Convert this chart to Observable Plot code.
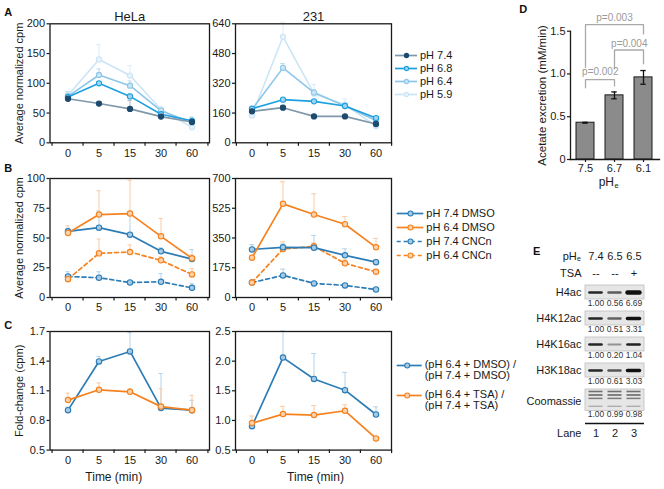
<!DOCTYPE html>
<html><head><meta charset="utf-8">
<script src="https://cdn.jsdelivr.net/npm/d3@7"></script>
<script src="https://cdn.jsdelivr.net/npm/@observablehq/plot@0.6"></script>
<style>
html,body{margin:0;padding:0;background:#fff;}
#fig{position:relative;width:664px;height:489px;overflow:hidden;background:#fff;font-family:"Liberation Sans",Arial,Helvetica,sans-serif;}
#fig svg{position:absolute;overflow:visible;}
.letter{position:absolute;font-weight:bold;font-size:11px;color:#111;line-height:1;transform:translate(-50%,-50%);}
</style></head><body><div id="fig"></div>
<script>
// ---------- data ----------
const times = ["0","5","15","30","60"];

const aSeries = ["pH 7.4","pH 6.8","pH 6.4","pH 5.9"];
const aHelaMean = [[74,66,57,44,35],[77,100,78,48,37],[78,114,96,54,34],[80,140,113,56,26]];
const aHelaErr  = [[2,2,14,2,2],[3,3,4,2,6],[8,10,8,3,4],[6,25,17,4,3]];
const a231Mean  = [[169,189,142,142,101],[183,232,223,198,133],[180,403,270,198,120],[147,570,264,205,90]];
const a231Err   = [[8,12,8,6,6],[8,6,8,8,8],[8,23,15,12,8],[10,75,50,30,10]];
const aHelaTicks = [0,50,100,150,200];
const a231Ticks  = [0,160,320,480,640];

const bSeries = ["pH 7.4 DMSO","pH 6.4 DMSO","pH 7.4 CNCn","pH 6.4 CNCn"];
const bHelaMean = [[55.6,58.7,52.8,38.8,32.3],[54.2,69.7,70.5,51.4,32.9],[17.7,16.6,12.6,13.2,8.1],[15.4,37.1,38.2,31.2,19.4]];
const bHelaErr  = [[2.5,14,16,3,8],[6,20,28,15,3],[4,5,1,7,3.5],[2,12,6,3,5]];
const b231Mean  = [[283,295,293,248,208],[234,551,488,431,295],[88,130,83,71,47],[88,285,301,201,151]];
const b231Err   = [[28,20,72,38,15],[15,130,122,45,53],[10,37,5,5,5],[8,43,20,20,15]];
const bHelaTicks = [0,25,50,75,100];
const b231Ticks  = [0,175,350,525,700];

const cSeries = ["(pH 6.4 + DMSO) /\n(pH 7.4 + DMSO)","(pH 6.4 + TSA) /\n(pH 7.4 + TSA)"];
const cHelaMean = [[0.904,1.397,1.498,0.925,0.904],[1.006,1.11,1.09,0.94,0.904]];
const cHelaErr  = [[0.03,0.05,0.19,0.35,0.1],[0.07,0.07,0.03,0.18,0.15]];
const c231Mean  = [[0.904,2.06,1.70,1.51,1.10],[0.955,1.107,1.09,1.163,0.697]];
const c231Err   = [[0.03,0.45,0.43,0.30,0.13],[0.12,0.13,0.16,0.10,0]];
const cHelaTicks = [0.5,0.8,1.1,1.4,1.7];
const c231Ticks  = [0.5,1.0,1.5,2.0,2.5];

const dCats = ["7.5","6.7","6.1"];
const dMean = [0.43,0.75,0.96];
const dErr  = [0.005,0.04,0.08];
const dTicks = [0,0.5,1.0,1.5];
const dPairs = [["7.5","6.7"],["6.7","6.1"],["7.5","6.1"]];
const dPLabels = ["p=0.002","p=0.004","p=0.003"];
const dPTop = [0.935,1.28,1.577];
const dPLegs = [[0.838,0.86],[1.06,1.118],[1.078,1.468]];
const dPText = [1.024,1.35,1.66];

const eRows = ["H4ac","H4K12ac","H4K16ac","H3K18ac","Coomassie"];
const eLanes = ["1","2","3"];
const ePHe = ["7.4","6.5","6.5"];
const eTSA = ["--","--","+"];
const eQuant = [[1.00,0.56,6.69],[1.00,0.51,3.31],[1.00,0.20,1.04],[1.00,0.61,3.03],[1.00,0.99,0.98]];

// ---------- helpers ----------
const fig = document.getElementById("fig");
const FONT = '"Liberation Sans", Arial, Helvetica, sans-serif';
const baseStyle = {fontFamily: FONT, fontSize: "11px", color: "#1a1a1a", background: "transparent", overflow: "visible"};
function place(node, x, y) { node.style.left = x + "px"; node.style.top = y + "px"; fig.appendChild(node); }
function letter(t, x, y) { const d = document.createElement("div"); d.className = "letter"; d.textContent = t; d.style.left = x + "px"; d.style.top = y + "px"; fig.appendChild(d); }

const aStyles = [
  {line: "#7f97ab", fill: "#1d4b6e", dot: "#1d4b6e", err: "#a9b9c7", dash: null},
  {line: "#1e9fe0", fill: "#a3d5f1", dot: "#1e9fe0", err: "#8fcdee", dash: null},
  {line: "#8cc6e9", fill: "#cde6f6", dot: "#8cc6e9", err: "#bcdcf0", dash: null},
  {line: "#cbe5f6", fill: "#e8f3fb", dot: "#cbe5f6", err: "#dbecf8", dash: null}
];
const BLUE = "#2c7cb6", ORANGE = "#f5821f";
const bStyles = [
  {line: BLUE, fill: "#a6cbe6", dot: BLUE, err: "#b3d3ea", dash: null},
  {line: ORANGE, fill: "#fcd2ab", dot: ORANGE, err: "#fbcba4", dash: null},
  {line: BLUE, fill: "#a6cbe6", dot: BLUE, err: "#b3d3ea", dash: "4,3"},
  {line: ORANGE, fill: "#fcd2ab", dot: ORANGE, err: "#fbcba4", dash: "4,3"}
];
const cStyles = [bStyles[0], bStyles[1]];

function lineChart(o) {
  const {means, errs, styles, order, yDomain, yTicks, yFmt, fx, fy, fw, fh, ml, mt, mb, title, ylabel, xlabel, xlabelDx = 0, r = 2.7, sw = 1.7} = o;
  const mr = 6;
  const bw = fw / times.length;
  const marks = [];
  order.forEach(si => {
    const rows = times.map((t, i) => ({t, m: means[si][i], e: errs[si][i]}));
    const s = styles[si];
    marks.push(Plot.ruleX(rows.filter(d => d.e > 0), {x: "t", y1: "m", y2: d => d.m + d.e, stroke: s.err, strokeWidth: 1}));
    marks.push(Plot.tickY(rows.filter(d => d.e > 0), {x: "t", y: d => d.m + d.e, stroke: s.err, strokeWidth: 1, inset: (bw - 5) / 2}));
  });
  order.forEach(si => {
    const rows = times.map((t, i) => ({t, m: means[si][i]}));
    const s = styles[si];
    marks.push(Plot.line(rows, {x: "t", y: "m", stroke: s.line, strokeWidth: sw, strokeDasharray: s.dash}));
    marks.push(Plot.dot(rows, {x: "t", y: "m", r, fill: s.fill, stroke: s.dot, strokeWidth: 1.1}));
  });
  marks.push(
    Plot.axisY({ticks: yTicks, tickFormat: yFmt, tickSize: 3, tickPadding: 2, label: null, strokeWidth: 1.2}),
    Plot.axisX({tickSize: 0, tickPadding: 6, label: null}),
    Plot.axisX({tickSize: 3.5, tickFormat: () => "", dx: -bw / 2, label: null, strokeWidth: 1.2}),
    Plot.axisX([times[times.length - 1]], {tickSize: 3.5, tickFormat: () => "", dx: bw / 2, label: null, strokeWidth: 1.2}),
    Plot.frame({stroke: "#1a1a1a", strokeWidth: 1.3})
  );
  if (title) marks.push(Plot.text([title], {text: d => d, frameAnchor: "top", dy: -7.3, lineAnchor: "middle", fontSize: 13}));
  if (ylabel) marks.push(Plot.text([ylabel], {text: d => d, frameAnchor: "left", dx: -30.5, rotate: -90, textAnchor: "middle", lineAnchor: "middle", fontSize: 11}));
  if (xlabel) marks.push(Plot.text([xlabel], {text: d => d, frameAnchor: "bottom", dy: 27.4, dx: xlabelDx, lineAnchor: "middle", fontSize: 12}));
  const p = Plot.plot({
    width: ml + fw + mr, height: mt + fh + mb,
    marginLeft: ml, marginTop: mt, marginRight: mr, marginBottom: mb,
    x: {type: "band", domain: times, padding: 0},
    y: {domain: yDomain},
    style: baseStyle,
    marks
  });
  place(p, fx - ml, fy - mt);
}

function legend(o) {
  const {labels, styles, left, top, width, height, ml, mt, lineW, mb, dotX = 0.5, r = 2.6, multiline = false} = o;
  const rows = labels.map((l, i) => ({l, i}));
  const marks = [];
  rows.forEach(d => {
    const s = styles[d.i];
    marks.push(Plot.ruleY([d], {y: "l", x1: 0, x2: 1, stroke: s.line, strokeWidth: 1.7, strokeDasharray: s.dash}));
    marks.push(Plot.dot([d], {y: "l", x: dotX, r, fill: s.fill, stroke: s.dot, strokeWidth: 1.1}));
  });
  marks.push(Plot.text(rows, {y: "l", x: 1, dx: 2.5, text: d => d.l, textAnchor: "start", fontSize: 11,
    lineAnchor: multiline ? "top" : "middle", dy: multiline ? -6 : 0, lineHeight: 1.06}));
  const p = Plot.plot({
    width, height, marginLeft: ml, marginTop: mt, marginRight: width - ml - lineW, marginBottom: mb,
    x: {domain: [0, 1], axis: null},
    y: {type: "point", domain: labels, padding: 0, axis: null},
    style: baseStyle,
    marks
  });
  place(p, left, top);
}

const f0 = d => String(d);
const f1 = d => d.toFixed(1);

// ---------- panel A ----------
lineChart({means: aHelaMean, errs: aHelaErr, styles: aStyles, order: [3,2,1,0], yDomain: [0,200], yTicks: aHelaTicks, yFmt: f0,
  fx: 49.5, fy: 23.3, fw: 159.5, fh: 119, ml: 49.5, mt: 23.3, mb: 18, title: "HeLa", ylabel: "Average normalized cpm", r: 2.6, sw: 1.6});
lineChart({means: a231Mean, errs: a231Err, styles: aStyles, order: [3,2,1,0], yDomain: [0,640], yTicks: a231Ticks, yFmt: f0,
  fx: 234.5, fy: 23.3, fw: 156, fh: 119, ml: 30, mt: 23.3, mb: 18, title: "231", r: 2.6, sw: 1.6});
legend({labels: aSeries, styles: aStyles, left: 385, top: 45, width: 100, height: 60, ml: 10, mt: 10, lineW: 22, mb: 11, r: 2.1});

// ---------- panel B ----------
lineChart({means: bHelaMean, errs: bHelaErr, styles: bStyles, order: [2,3,0,1], yDomain: [0,100], yTicks: bHelaTicks, yFmt: f0,
  fx: 49.5, fy: 178.3, fw: 159.5, fh: 119, ml: 49.5, mt: 10, mb: 18, ylabel: "Average normalized cpm"});
lineChart({means: b231Mean, errs: b231Err, styles: bStyles, order: [2,3,0,1], yDomain: [0,700], yTicks: b231Ticks, yFmt: f0,
  fx: 234.5, fy: 178.3, fw: 156, fh: 119, ml: 30, mt: 10, mb: 18});
legend({labels: bSeries, styles: bStyles, left: 385, top: 200, width: 130, height: 70, ml: 11.7, mt: 12.3, lineW: 26.6, mb: 14.3, r: 2.5});

// ---------- panel C ----------
lineChart({means: cHelaMean, errs: cHelaErr, styles: cStyles, order: [0,1], yDomain: [0.5,1.7], yTicks: cHelaTicks, yFmt: f1,
  fx: 49.5, fy: 330.7, fw: 159.5, fh: 118.6, ml: 49.5, mt: 10, mb: 38, ylabel: "Fold-change (cpm)", xlabel: "Time (min)", xlabelDx: -16});
lineChart({means: c231Mean, errs: c231Err, styles: cStyles, order: [0,1], yDomain: [0.5,2.5], yTicks: c231Ticks, yFmt: f1,
  fx: 234.5, fy: 330.7, fw: 156, fh: 118.6, ml: 30, mt: 10, mb: 38, xlabel: "Time (min)", xlabelDx: 2});
legend({labels: cSeries, styles: cStyles, left: 385, top: 350, width: 130, height: 70, ml: 11.7, mt: 15, lineW: 25, mb: 24.3, r: 2.5, dotX: 0.4, multiline: true});

// ---------- panel D ----------
(function () {
  const rows = dCats.map((c, i) => ({c, m: dMean[i], e: dErr[i]}));
  const br = dPairs.map((p, i) => [
    {k: i, x: p[0], y: dPLegs[i][0]}, {k: i, x: p[0], y: dPTop[i]},
    {k: i, x: p[1], y: dPTop[i]}, {k: i, x: p[1], y: dPLegs[i][1]}
  ]).flat();
  const step = 29.57;
  const adj = dPairs.map((p, i) => ({x: p[0], y: dPText[i], t: dPLabels[i], wide: dCats.indexOf(p[1]) - dCats.indexOf(p[0]) > 1}));
  const p = Plot.plot({
    width: 144, height: 195, marginLeft: 50, marginRight: 5, marginTop: 30.7, marginBottom: 36,
    x: {type: "band", domain: dCats, paddingInner: 0.37, paddingOuter: 0.19},
    y: {domain: [0, 1.5]},
    style: baseStyle,
    marks: [
      Plot.barY(rows, {x: "c", y: "m", fill: "#8b8b8b", stroke: "#1a1a1a", strokeWidth: 1}),
      Plot.ruleX(rows, {x: "c", y1: d => d.m - d.e, y2: d => d.m + d.e, stroke: "#111", strokeWidth: 1.3}),
      Plot.tickY(rows, {x: "c", y: d => d.m + d.e, stroke: "#111", strokeWidth: 1.3, inset: 6.3}),
      Plot.tickY(rows, {x: "c", y: d => d.m - d.e, stroke: "#111", strokeWidth: 1.3, inset: 6.3}),
      Plot.line(br, {x: "x", y: "y", z: "k", stroke: "#a9a9a9", strokeWidth: 1.3}),
      Plot.text(adj.filter(d => !d.wide), {x: "x", y: "y", text: "t", dx: step / 2, fill: "#9a9a9a", fontSize: 10}),
      Plot.text(adj.filter(d => d.wide), {x: () => dCats[1], y: "y", text: "t", fill: "#9a9a9a", fontSize: 10}),
      Plot.frame({anchor: "left", stroke: "#1a1a1a", strokeWidth: 1.3}),
      Plot.frame({anchor: "bottom", stroke: "#1a1a1a", strokeWidth: 1.3}),
      Plot.axisY({ticks: dTicks, tickFormat: d => d === 0 ? "0" : d.toFixed(1), tickSize: 3, tickPadding: 2, label: null, strokeWidth: 1.2}),
      Plot.axisX({tickSize: 3, tickPadding: 2, label: null, strokeWidth: 1.2}),
      Plot.text(["Acetate excretion (mM/min)"], {text: d => d, frameAnchor: "left", dx: -28.3, rotate: -90, textAnchor: "middle", lineAnchor: "middle", fontSize: 11.5}),
      Plot.text(["pH"], {text: d => d, frameAnchor: "bottom", dx: -1, dy: 23, textAnchor: "end", lineAnchor: "middle", fontSize: 12}),
      Plot.text(["e"], {text: d => d, frameAnchor: "bottom", dx: -0.5, dy: 26.5, textAnchor: "start", lineAnchor: "middle", fontSize: 7.5})
    ]
  });
  place(p, 520, 0);
})();

// ---------- panel E ----------
(function () {
  const cells = eRows.flatMap((r, ri) => eLanes.map((l, li) => ({r, l, v: eQuant[ri][li]})));
  const ac = cells.filter(d => d.r !== "Coomassie");
  const co = cells.filter(d => d.r === "Coomassie");
  const acRows = eRows.filter(r => r !== "Coomassie");
  const coRows = eRows.filter(r => r === "Coomassie");
  const boxStyle = {fill: "#e6e6e6", stroke: "#bdbdbd", strokeWidth: 0.8, insetTop: 0, insetLeft: 0, insetRight: 0};
  const coStripe = (dy, op, w) => Plot.tickY(co, {x: "l", y: "r", dy, stroke: "#222", strokeOpacity: op, strokeWidth: w, insetLeft: 2.5, insetRight: 2.5});
  const p = Plot.plot({
    width: 144, height: 205, marginLeft: 65, marginRight: 20, marginTop: 45, marginBottom: 41.7,
    x: {type: "band", domain: eLanes, padding: 0, axis: null},
    y: {type: "band", domain: eRows, paddingInner: 0.45, paddingOuter: 0, axis: null},
    style: baseStyle,
    marks: [
      Plot.cell(acRows, {y: d => d, ...boxStyle, insetBottom: 0}),
      Plot.cell(coRows, {y: d => d, ...boxStyle, insetBottom: -7.4}),
      Plot.tickY(ac, {x: "l", y: "r", stroke: "#111",
        strokeWidth: d => 1.6 + 1.1 * Math.sqrt(d.v),
        strokeOpacity: d => Math.min(1, 0.15 + 0.75 * Math.pow(d.v, 0.7)),
        insetLeft: 3.5, insetRight: 3.5, strokeLinecap: "round"}),
      coStripe(-5, 0.6, 1.6), coStripe(-1.5, 0.65, 1.6), coStripe(1.9, 0.55, 1.5), coStripe(9.8, 0.3, 1.3),
      Plot.text(ac, {x: "l", y: "r", text: d => d.v.toFixed(2), dy: 10.8, fontSize: 8.5, fill: "#333"}),
      Plot.text(co, {x: "l", y: "r", text: d => d.v.toFixed(2), dy: 18.1, fontSize: 8.5, fill: "#333"}),
      Plot.text(acRows, {y: d => d, text: d => d, frameAnchor: "left", dx: -4, textAnchor: "end", lineAnchor: "middle"}),
      Plot.text(coRows, {y: d => d, text: d => d, frameAnchor: "left", dx: -4, dy: 4.5, textAnchor: "end", lineAnchor: "middle"}),
      Plot.text(ePHe, {x: (d, i) => eLanes[i], text: d => d, frameAnchor: "top", dy: -29.3, lineAnchor: "middle"}),
      Plot.text(eTSA, {x: (d, i) => eLanes[i], text: d => d, frameAnchor: "top", dy: -11.7, lineAnchor: "middle"}),
      Plot.text(["pH"], {text: d => d, frameAnchor: "top-left", dx: -8.8, dy: -29.3, textAnchor: "end", lineAnchor: "middle"}),
      Plot.text(["e"], {text: d => d, frameAnchor: "top-left", dx: -8.5, dy: -26.5, textAnchor: "start", lineAnchor: "middle", fontSize: 7}),
      Plot.text(["TSA"], {text: d => d, frameAnchor: "top-left", dx: -4, dy: -11.7, textAnchor: "end", lineAnchor: "middle"}),
      Plot.ruleY(coRows, {y: d => d, dy: 27.1, stroke: "#111", strokeWidth: 1.5}),
      Plot.text(eLanes, {x: d => d, y: () => "Coomassie", text: d => d, dy: 37.1}),
      Plot.text(["Lane"], {y: () => "Coomassie", text: d => d, frameAnchor: "left", dx: -4, dy: 37.1, textAnchor: "end", lineAnchor: "middle"})
    ]
  });
  place(p, 520, 240);
})();

// ---------- panel letters ----------
letter("A", 8.3, 11.7);
letter("B", 8.3, 167.7);
letter("C", 8.3, 325);
letter("D", 523.3, 9.3);
letter("E", 536.7, 250.7);
</script>
</body></html>
